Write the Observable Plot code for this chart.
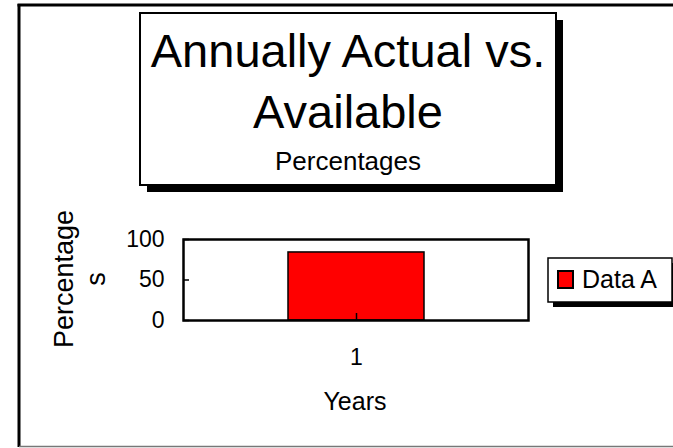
<!DOCTYPE html>
<html>
<head>
<meta charset="utf-8">
<script src="https://cdn.jsdelivr.net/npm/d3@7"></script>
<script src="https://cdn.jsdelivr.net/npm/@observablehq/plot@0.6"></script>
<style>
  html, body { margin: 0; padding: 0; background: #fff; }
  svg { font-family: "Liberation Sans", Arial, sans-serif; }
</style>
</head>
<body>
<div id="chart"></div>
<script>
// ---- data ----
const categories = ["1"];
const seriesValues = [84];
const seriesName = "Data A";
const seriesColor = "#ff0000";
const yTicks = [0, 50, 100];
const titleLines = ["Annually Actual vs.", "Available"];
const subtitle = "Percentages";
const xLabel = "Years";
const yLabelLines = ["Percentage", "s"];

const data = categories.map((c, i) => ({year: c, value: seriesValues[i]}));

const W = 673, H = 448;
const chart = Plot.plot({
  width: W,
  height: H,
  marginLeft: 183,
  marginRight: 145,
  marginTop: 239,
  marginBottom: 128,
  style: {fontFamily: '"Liberation Sans", Arial, sans-serif', color: "black", background: "white"},
  x: {domain: categories, padding: 0.435, axis: null},
  y: {domain: [0, 100], axis: null},
  marks: [
    Plot.barY(data, {x: "year", y: "value", fill: seriesColor, stroke: "black", strokeWidth: 1.5}),
    Plot.frame({stroke: "black", strokeWidth: 2.5}),
    Plot.axisY({ticks: yTicks, anchor: "left", tickSize: 6, dx: 6, strokeWidth: 1.5, fill: "none", label: null}),
    Plot.axisY({ticks: yTicks, anchor: "left", tickSize: 0, tickPadding: 19, fontSize: 23, fill: "black", label: null}),
    Plot.axisX({anchor: "bottom", tickSize: 7, dy: -7, strokeWidth: 1.5, fill: "none", label: null}),
    Plot.axisX({anchor: "bottom", tickSize: 0, tickPadding: 28, fontSize: 23, fill: "black", label: null})
  ]
});
document.getElementById("chart").appendChild(chart);

const svg = d3.select(chart);
const font = '"Liberation Sans", Arial, sans-serif';

// outer frame (left + top black, bottom grey)
svg.append("line").attr("x1", 19).attr("x2", 19).attr("y1", 4).attr("y2", 447)
  .attr("stroke", "black").attr("stroke-width", 3);
svg.append("line").attr("x1", 17.5).attr("x2", W).attr("y1", 5).attr("y2", 5)
  .attr("stroke", "black").attr("stroke-width", 3);
svg.append("line").attr("x1", 19).attr("x2", W).attr("y1", 446.5).attr("y2", 446.5)
  .attr("stroke", "#777").attr("stroke-width", 1.5);

// title box with shadow
const tb = {x: 140, y: 13, w: 416, h: 172, s: 7};
svg.append("rect").attr("x", tb.x + tb.s).attr("y", tb.y + tb.s).attr("width", tb.w).attr("height", tb.h).attr("fill", "black");
svg.append("rect").attr("x", tb.x).attr("y", tb.y).attr("width", tb.w).attr("height", tb.h)
  .attr("fill", "white").attr("stroke", "black").attr("stroke-width", 2);
const tcx = tb.x + tb.w / 2;
svg.append("text").attr("x", tcx).attr("y", 67).attr("text-anchor", "middle")
  .style("font-family", font).style("font-size", "47px").text(titleLines[0]);
svg.append("text").attr("x", tcx).attr("y", 128).attr("text-anchor", "middle")
  .style("font-family", font).style("font-size", "47px").text(titleLines[1]);
svg.append("text").attr("x", tcx).attr("y", 170).attr("text-anchor", "middle")
  .style("font-family", font).style("font-size", "26px").text(subtitle);

// y label (two lines, rotated)
const yl = svg.append("text").attr("transform", "translate(73,279) rotate(-90)")
  .attr("text-anchor", "middle").style("font-family", font).style("font-size", "27px");
yl.append("tspan").attr("x", 0).attr("y", 0).text(yLabelLines[0]);
yl.append("tspan").attr("x", 0).attr("y", 32).text(yLabelLines[1]);

// x label
svg.append("text").attr("x", 355).attr("y", 410).attr("text-anchor", "middle")
  .style("font-family", font).style("font-size", "25px").text(xLabel);

// legend with shadow
const lg = {x: 548, y: 258, w: 124, h: 44, s: 5};
svg.append("rect").attr("x", lg.x + lg.s).attr("y", lg.y + lg.s).attr("width", lg.w).attr("height", lg.h).attr("fill", "black");
svg.append("rect").attr("x", lg.x).attr("y", lg.y).attr("width", lg.w).attr("height", lg.h)
  .attr("fill", "white").attr("stroke", "black").attr("stroke-width", 1.5);
svg.append("rect").attr("x", 558).attr("y", 271).attr("width", 15).attr("height", 17)
  .attr("fill", seriesColor).attr("stroke", "black").attr("stroke-width", 2);
svg.append("text").attr("x", 582).attr("y", 288).attr("text-anchor", "start")
  .style("font-family", font).style("font-size", "25px").text(seriesName);
</script>
</body>
</html>
